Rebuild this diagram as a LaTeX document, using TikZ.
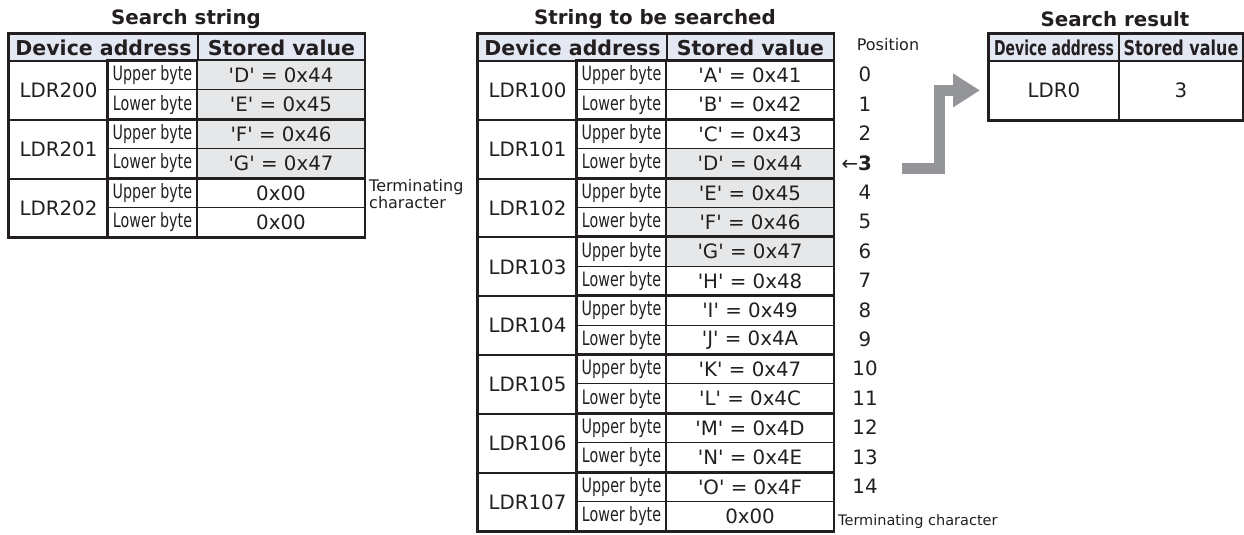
\documentclass[tikz,border=0pt]{standalone}
\usepackage{fontspec}
\setmainfont{DejaVu Sans}
\usepackage{graphicx}
\usepackage{tikz}
\usetikzlibrary{arrows.meta,positioning}
\definecolor{TbInk}{HTML}{231F20}
\definecolor{TbHead}{HTML}{E4E8F3}
\definecolor{TbHit}{HTML}{E6E7E8}
\definecolor{TbArrow}{HTML}{939598}
\newcommand{\qt}[1]{\textquotesingle#1\textquotesingle}
\newcommand{\cond}[2][0.72]{\scalebox{#1}[1]{#2}}

\begin{document}
\begin{tikzpicture}[
  x=1pt,y=-1pt,
  font=\fontsize{19.8}{23}\selectfont,text=TbInk,
  cell/.style={draw=TbInk,line width=1pt,inner sep=0pt,anchor=north west,minimum height=29.4pt},
  addr/.style={cell,line width=2pt,minimum width=99pt,minimum height=58.8pt},
  half/.style={cell,minimum width=90pt},
  val/.style={cell,minimum width=167pt},
  hit/.style={fill=TbHit},
  nohit/.style={},
  head/.style={cell,line width=2pt,fill=TbHead,minimum height=27pt,font=\fontsize{20.5}{23}\selectfont\bfseries},
  title/.style={font=\fontsize{19.8}{23}\selectfont\bfseries},
  note/.style={font=\fontsize{16}{17}\selectfont,align=left,anchor=west,inner sep=0pt},
  grp/.style={draw=TbInk,line width=2pt},
  frame/.style={draw=TbInk,line width=2.5pt},
  resarrow/.style={draw=TbArrow,line width=11pt,-{Triangle[length=27pt,width=32pt]}}
]
\useasboundingbox (0,0) rectangle (1244,535);

% search string
\node[title] (s-title) at (186,19) {Search string};
\node[head,minimum width=189pt] (s-addr) at (8,33) {Device address};
\node[head,minimum width=167pt] (s-val) at (197,33) {Stored value};
\foreach \j in {0,1,2}
  \node[addr] (s-ldr\j) at (8,{60+58.8*\j}) {LDR20\j};
\foreach \b/\v/\f [count=\i from 0] in {Upper/{\qt{D} = 0x44}/hit, Lower/{\qt{E} = 0x45}/hit,
    Upper/{\qt{F} = 0x46}/hit, Lower/{\qt{G} = 0x47}/hit, Upper/0x00/nohit, Lower/0x00/nohit}{
  \node[half] (s-b\i) at (107,{60+29.4*\i}) {\cond{\b\ byte}};
  \node[val,\f] (s-v\i) at (197,{60+29.4*\i}) {\v};
}
\foreach \j [evaluate=\j as \h using int(2*\j), evaluate=\j as \k using int(2*\j+1)] in {0,1,2}
  \draw[grp] (s-b\h.north west) rectangle (s-v\k.south east);
\draw[grp] (s-v0.north west) -- (s-v5.south west);
\draw[frame] (s-addr.north west) rectangle (s-v5.south east);
\node[note] (s-term) at (369,194) {Terminating\\character};

% string to be searched
\node[title] (m-title) at (655,19) {String to be searched};
\node[head,minimum width=189pt] (m-addr) at (477,33) {Device address};
\node[head,minimum width=167pt] (m-val) at (666,33) {Stored value};
\node[note,anchor=center] (m-pos) at (888,45) {Position};
\foreach \j in {0,...,7}
  \node[addr] (m-ldr\j) at (477,{60+58.8*\j}) {LDR10\j};
\foreach \b/\v/\f [count=\i from 0] in {Upper/{\qt{A} = 0x41}/nohit, Lower/{\qt{B} = 0x42}/nohit,
    Upper/{\qt{C} = 0x43}/nohit, Lower/{\qt{D} = 0x44}/hit, Upper/{\qt{E} = 0x45}/hit,
    Lower/{\qt{F} = 0x46}/hit, Upper/{\qt{G} = 0x47}/hit, Lower/{\qt{H} = 0x48}/nohit,
    Upper/{\qt{I} = 0x49}/nohit, Lower/{\qt{J} = 0x4A}/nohit, Upper/{\qt{K} = 0x47}/nohit,
    Lower/{\qt{L} = 0x4C}/nohit, Upper/{\qt{M} = 0x4D}/nohit, Lower/{\qt{N} = 0x4E}/nohit,
    Upper/{\qt{O} = 0x4F}/nohit, Lower/0x00/nohit}{
  \node[half] (m-b\i) at (576,{60+29.4*\i}) {\cond{\b\ byte}};
  \node[val,\f] (m-v\i) at (666,{60+29.4*\i}) {\v};
}
\foreach \p [count=\i from 0] in {0,1,2,\llap{←}\textbf{3},4,5,6,7,8,9,10,11,12,13,14}
  \node (m-p\i) at (865,{74.7+29.4*\i}) {\p};
\foreach \j [evaluate=\j as \h using int(2*\j), evaluate=\j as \k using int(2*\j+1)] in {0,...,7}
  \draw[grp] (m-b\h.north west) rectangle (m-v\k.south east);
\draw[grp] (m-v0.north west) -- (m-v15.south west);
\draw[frame] (m-addr.north west) rectangle (m-v15.south east);
\node[note,font=\fontsize{14.5}{16}\selectfont] (m-term) at (838,521) {Terminating character};

% search result
\node[title] (r-title) at (1115,19) {Search result};
\node[head,minimum width=130pt] (r-addr) at (988,33) {\cond[0.68]{Device address}};
\node[head,minimum width=124pt] (r-val) at (1118,33) {\cond[0.78]{Stored value}};
\node[cell,line width=2pt,minimum width=130pt,minimum height=58.8pt] (r-ldr) at (988,60) {LDR0};
\node[cell,line width=2pt,minimum width=124pt,minimum height=58.8pt] (r-res) at (1118,60) {3};
\draw[frame] (r-addr.north west) rectangle (r-res.south east);

% result arrow
\coordinate (arr-start) at (902,168);
\draw[resarrow] (arr-start) -| ([xshift=-49pt]r-ldr.west) -- ([xshift=-8pt]r-ldr.west);
\end{tikzpicture}
\end{document}
